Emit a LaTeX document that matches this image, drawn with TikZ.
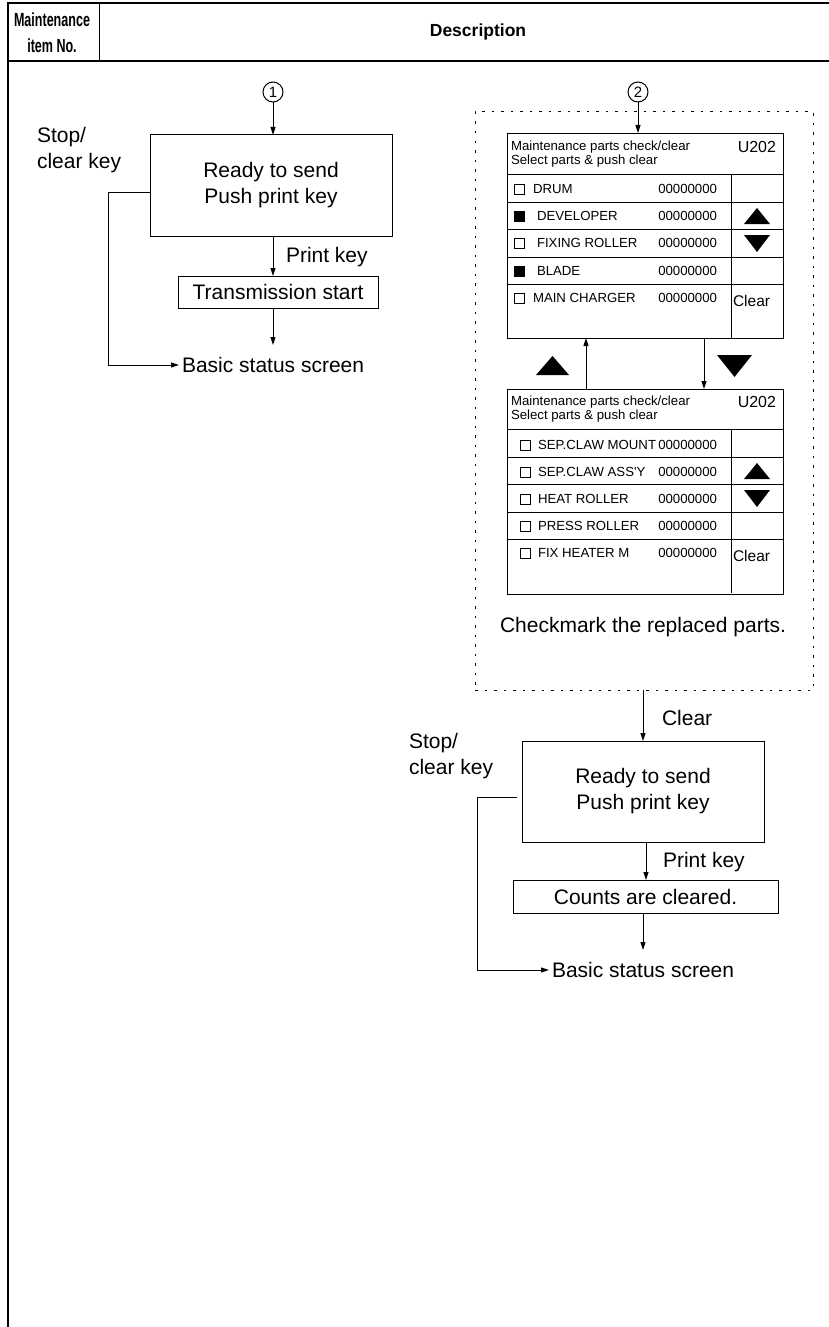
\documentclass[tikz,border=0pt]{standalone}
\usepackage{fontspec}
\setmainfont{Liberation Sans}
\newfontfamily\condfont[FakeStretch=0.66]{Liberation Sans}
\usetikzlibrary{arrows.meta,calc}

% one row of a parts list: name, y, box x, box fill, label x, label
\newcommand\partrow[6]{%
  \draw[panel,#4] (#3,#2-5) rectangle ++(10,10);
  \node[scrtxt,anchor=west] (#1) at (#5,#2) {#6};
  \node[scrtxt,anchor=east] (#1n) at (210,#2) {00000000};
}
% grid, header and scroll keys of a parts screen (local coordinates)
\newcommand\screenframe[1]{%
  \draw[panel] (0,41) -- (276,41) (224,41) -- (224,205);
  \foreach \yy in {69,96,124,151} \draw[panel] (0,\yy) -- (276,\yy);
  \node[scrtxt,anchor=west] (#1t1) at (4,14) {Maintenance parts check/clear};
  \node[scrtxt,anchor=west] (#1t2) at (4,28) {Select parts \& push clear};
  \node[anchor=east,font=\fontsize{16}{16}\selectfont] (#1code) at (269,14) {U202};
  \fill (237,91) -- (263,91) -- (250,75) -- cycle;
  \fill (237,102) -- (263,102) -- (250,119) -- cycle;
  \node[anchor=west,font=\fontsize{15.5}{16}\selectfont] (#1clr) at (226,168) {Clear};
}

\begin{document}
\begin{tikzpicture}[x=1pt,y=-1pt,
  every node/.style={inner sep=0pt,outer sep=0pt},
  big/.style={font=\fontsize{21}{26}\selectfont},
  scrtxt/.style={font=\fontsize{13.2}{15}\selectfont},
  panel/.style={line width=0.9pt},
  flowbox/.style={draw,line width=1pt,minimum width=242pt,minimum height=101pt,
    align=center,font=\fontsize{21}{26}\selectfont},
  resultbox/.style={draw,line width=1pt,font=\fontsize{21}{26}\selectfont},
  screen/.style={draw,line width=0.9pt,minimum width=276pt,minimum height=205pt},
  arr/.style={line width=0.9pt,-{Triangle[length=8pt,width=5pt]}},
  frame/.style={line width=2pt},
  num/.style={draw,circle,line width=1pt,minimum size=20pt,font=\fontsize{15}{15}\selectfont},
]
\useasboundingbox (0,0) rectangle (829,1327);

% page frame and table header
\draw[frame] (8.3,1327) -- (8.3,3) -- (829,3);
\draw[frame] (8.3,61) -- (829,61);
\draw[line width=1pt] (99,3) -- (99,61);
\node[font=\condfont\bfseries\fontsize{19}{26}\selectfont,align=center] (hdrno) at (52,33) {Maintenance\\item No.};
\node[font=\bfseries\fontsize{17.5}{20}\selectfont] (hdrdesc) at (478,32) {Description};

% ---- flow 1 ----
\node[num] (c1) at (273,92) {1};
\node[flowbox] (rA) at (271,185.5) {Ready to send\\Push print key};
\node[resultbox,minimum width=200pt,minimum height=32pt] (tx) at (278,292) {Transmission start};
\node[big,anchor=west] (bsA) at (182,365) {Basic status screen};
\node[big,anchor=west,align=left] (stopA) at (37,150.5) {Stop/\\clear key};
\node[big,anchor=west] (pkA) at (286,257) {Print key};
\coordinate (endA) at (273,345);
\draw[arr] (c1) -- (c1 |- rA.north);
\draw[arr] (rA.south -| c1) -- (c1 |- tx.north);
\draw[arr] (tx.south -| c1) -- (endA);
\draw[arr,shorten >=3pt] ($(rA.west)+(0,6.5)$) -- ++(-42,0) |- (bsA.west);

% ---- flow 2 ----
\node[num] (c2) at (638,92) {2};
\node[draw,dash pattern=on 2.5pt off 7pt,line width=1pt,minimum width=338pt,minimum height=578pt] (grp) at (644,401) {};
\node[screen] (scrA) at (645,235.5) {};
\node[screen] (scrB) at (645,491.5) {};

\begin{scope}[shift={(507,133)}]
  \screenframe{a}
  \partrow{aDrum}{56}{7}{fill=white}{26}{DRUM}
  \partrow{aDev}{83}{7}{fill=black}{30}{DEVELOPER}
  \partrow{aFix}{110}{7}{fill=white}{30}{FIXING ROLLER}
  \partrow{aBlade}{138}{7}{fill=black}{30}{BLADE}
  \partrow{aMain}{165}{7}{fill=white}{26}{MAIN CHARGER}
\end{scope}

\begin{scope}[shift={(507,388)}]
  \screenframe{b}
  \partrow{bMount}{57}{13}{fill=white}{31}{SEP.CLAW MOUNT}
  \partrow{bAssy}{84}{13}{fill=white}{31}{SEP.CLAW ASS\textquotesingle Y}
  \partrow{bHeat}{111}{13}{fill=white}{31}{HEAT ROLLER}
  \partrow{bPress}{138}{13}{fill=white}{31}{PRESS ROLLER}
  \partrow{bFix}{165}{13}{fill=white}{31}{FIX HEATER M}
\end{scope}

\draw[arr] (c2) -- (c2 |- scrA.north);
\draw[arr] ($(scrB.north)+(-59,0)$) -- ($(scrA.south)+(-59,0)$);
\draw[arr] ($(scrA.south)+(59,0)$) -- ($(scrB.north)+(59,0)$);
\fill (536,375) -- (569,375) -- (552.5,356) -- cycle;
\fill (717,355) -- (752,355) -- (734.5,377) -- cycle;
\node[big] (note) at (643,627) {Checkmark the replaced parts.};

\node[flowbox] (rB) at (643,791.5) {Ready to send\\Push print key};
\node[big,anchor=west] (clrlbl) at (662,718) {Clear};
\node[big,anchor=west,align=left] (stopB) at (409,756.5) {Stop/\\clear key};
\node[resultbox,minimum width=265pt,minimum height=33pt] (cnt) at (645.5,896.5) {Counts are cleared.};
\node[big,anchor=west] (pkB) at (663,862) {Print key};
\node[big,anchor=west] (bsB) at (552,970) {Basic status screen};
\coordinate (endB) at (643,950);
\draw[arr] (grp.south -| rB) -- (rB.north);
\draw[arr] ($(rB.south)+(3,0)$) -- ($(rB.south |- cnt.north)+(3,0)$);
\draw[arr] (cnt.south -| rB) -- (endB);
\draw[arr,shorten >=3pt] ($(rB.west)+(-5,5.5)$) -- ++(-40,0) |- (bsB.west);
\end{tikzpicture}
\end{document}
